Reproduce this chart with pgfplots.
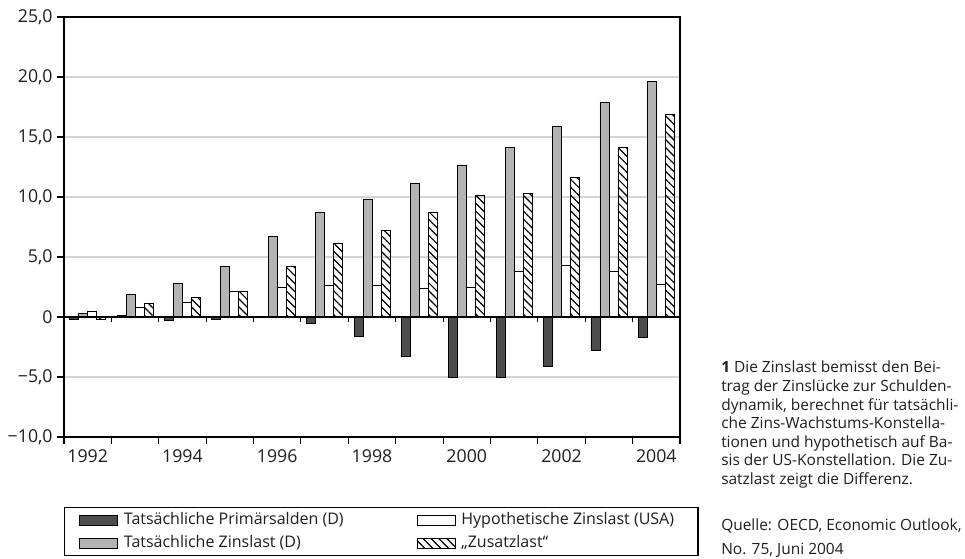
\documentclass[border=0pt]{standalone}
\usepackage{fontspec}
\setmainfont{Open Sans}
\usepackage{pgfplots}
\pgfplotsset{compat=1.18}
\usetikzlibrary{patterns.meta}
\definecolor{darkbar}{HTML}{4D4D4D}
\definecolor{lightbar}{HTML}{B3B3B3}
\definecolor{gridgray}{HTML}{D4D4D4}
\definecolor{txt}{HTML}{1E1E1E}

\pgfplotstableread{
x prim zins hyp zus
0  -0.2   0.3  0.5  -0.2
1   0.15  1.9  0.8   1.1
2  -0.3   2.8  1.2   1.6
3  -0.2   4.2  2.1   2.1
4   0.05  6.7  2.45  4.2
5  -0.5   8.7  2.6   6.1
6  -1.6   9.8  2.6   7.2
7  -3.25 11.1  2.4   8.7
8  -5.0  12.6  2.5  10.1
9  -5.0  14.1  3.8  10.3
10 -4.1  15.9  4.3  11.6
11 -2.75 17.9  3.8  14.1
12 -1.7  19.6  2.7  16.9
}\datatable

\begin{document}
\begin{tikzpicture}
\useasboundingbox (0,0) rectangle (723.75pt,419.25pt);
\begin{axis}[
  at={(48pt,91.5pt)}, anchor=south west,
  scale only axis, width=462pt, height=315pt,
  xmin=-0.5, xmax=12.5, ymin=-10, ymax=25,
  ybar=0pt, bar width=6.75pt,
  axis line style={line width=1pt, black},
  xtick={-0.5,0.5,...,12.5}, xticklabels={},
  extra x ticks={0,2,4,6,8,10,12},
  extra x tick labels={1992,1994,1996,1998,2000,2002,2004},
  extra x tick style={major tick length=0pt},
  tick align=outside, major tick length=5pt,
  xtick pos=left, ytick pos=left,
  ytick={-10,-5,...,25},
  yticklabels={{−10,0},{−5,0},{0},{5,0},{10,0},{15,0},{20,0},{25,0}},
  ymajorgrids, grid style={gridgray, line width=0.8pt},
  tick style={black, line width=0.8pt},
  tick label style={font=\fontsize{13.3}{15}\selectfont, text=txt},
  xticklabel style={yshift=-6pt},
  legend columns=2, transpose legend,
  legend style={at={(0,-0.1667)}, anchor=north west, draw=black, line width=0.8pt,
    font=\fontsize{12}{14}\selectfont, text=txt, inner xsep=3pt, inner ysep=1.5pt,
    nodes={inner xsep=4.5pt, inner ysep=2pt, text height=9pt, text depth=3pt},
    column sep=0pt, row sep=1.2pt},
  legend cell align=left,
  legend image code/.code={\path[draw=none, fill=none, pattern=none] (0pt,-1pt) rectangle (8.25pt,1pt);
    \draw[#1, line width=0.6pt] (8.25pt,-3.75pt) rectangle (36.75pt,3.75pt);},
]
\addplot[fill=darkbar, draw=black, line width=0.6pt] table[x=x, y=prim] {\datatable};
\addlegendentry{\makebox[207pt][l]{Tatsächliche Primärsalden (D)}}
\addplot[fill=lightbar, draw=black, line width=0.6pt] table[x=x, y=zins] {\datatable};
\addlegendentry{\makebox[207pt][l]{Tatsächliche Zinslast (D)}}
\addplot[fill=white, draw=black, line width=0.6pt] table[x=x, y=hyp] {\datatable};
\addlegendentry{\makebox[170pt][l]{Hypothetische Zinslast (USA)}}
\addplot[pattern={Lines[angle=-45,distance=4.2pt,line width=0.9pt]}, draw=black, line width=0.6pt] table[x=x, y=zus] {\datatable};
\addlegendentry{\makebox[170pt][l]{„Zusatzlast“}}
\draw[line width=0.8pt, black] (axis cs:-0.5,0) -- (axis cs:12.5,0);
\pgfplotsinvokeforeach{0.5,1.5,2.5,3.5,4.5,5.5,6.5,7.5,8.5,9.5,10.5,11.5}{
  \draw[line width=0.8pt, black] ([yshift=1pt]axis cs:#1,0) -- ([yshift=-3.5pt]axis cs:#1,0);
}
\end{axis}
\begin{scope}
\clip (0,0) rectangle (723.75pt,419.25pt);
\begin{scope}[every node/.style={anchor=base west, inner sep=0pt, text=txt, font=\fontsize{11.6}{14}\selectfont}]
\node at (540.75pt,139.5pt) {\textbf{1} Die Zinslast bemisst den Bei-};
\node at (540.75pt,125.6pt) {trag der Zinslücke zur Schulden-};
\node at (540.75pt,111.7pt) {dynamik, berechnet für tatsächli-};
\node at (540.75pt,97.8pt) {che Zins-Wachstums-Konstella-};
\node at (540.75pt,83.9pt) {tionen und hypothetisch auf Ba-};
\node at (540.75pt,70pt) {sis der US-Konstellation. Die Zu-};
\node at (540.75pt,56.1pt) {satzlast zeigt die Differenz.};
\node at (540.75pt,21.5pt) {Quelle: OECD, Economic Outlook,};
\node at (540.75pt,3.5pt) {No. 75, Juni 2004};
\end{scope}
\end{scope}
\end{tikzpicture}
\end{document}
